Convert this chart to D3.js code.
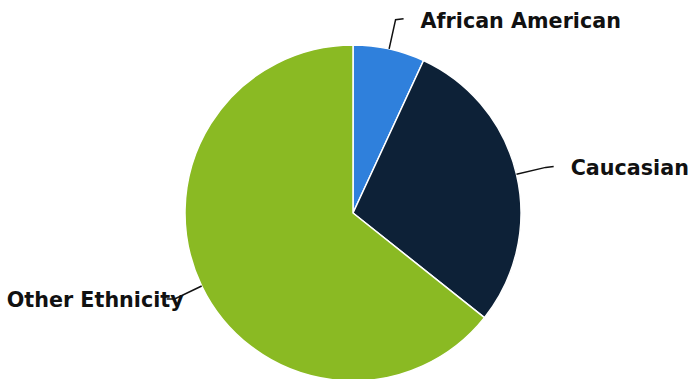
<!DOCTYPE html>
<html><head><meta charset="utf-8">
<script src="https://cdn.jsdelivr.net/npm/d3@7"></script>
<style>body{margin:0;background:#fff}svg{display:block}</style>
</head><body>
<script>
const categories = ["African American", "Caucasian", "Other Ethnicity"];
const values = [6.9, 28.8, 64.3];
const colors = ["#2f80dc", "#0d2137", "#8aba23"];

const W = 690, H = 379, cx = 353, cy = 213, R = 168;
const svg = d3.select("body").append("svg").attr("width", W).attr("height", H);
const g = svg.append("g").attr("transform", `translate(${cx},${cy})`);
const data = categories.map((c, i) => ({c, v: values[i], col: colors[i]}));
const pie = d3.pie().value(d => d.v).sort(null);
const arc = d3.arc().innerRadius(0).outerRadius(R);
const arcs = pie(data);
g.selectAll("path.slice").data(arcs).join("path")
  .attr("d", arc).attr("fill", d => d.data.col)
  .attr("stroke", "#fff").attr("stroke-width", 1.5).attr("stroke-linejoin", "round");

arcs.forEach(a => {
  const m = (a.startAngle + a.endAngle) / 2;
  const s = Math.sin(m), c = -Math.cos(m);
  const right = s >= 0;
  const p0 = [R * s, R * c];
  const p1 = [(R + 30) * s, (R + 30) * c];
  const p2 = [p1[0] + (right ? 8 : -8), p1[1] - (right ? 1 : 0)];
  g.append("path").attr("d", d3.line()([p0, p1, p2]))
    .attr("fill", "none").attr("stroke", "#111").attr("stroke-width", 1.5);
  g.append("text")
    .attr("x", right ? p1[0] + 25 : p1[0] + 9)
    .attr("y", p1[1] + 8)
    .attr("text-anchor", right ? "start" : "end")
    .attr("font-family", "DejaVu Sans")
    .attr("font-weight", "bold").attr("font-size", 20.7).attr("fill", "#111")
    .text(a.data.c);
});
</script>
</body></html>
